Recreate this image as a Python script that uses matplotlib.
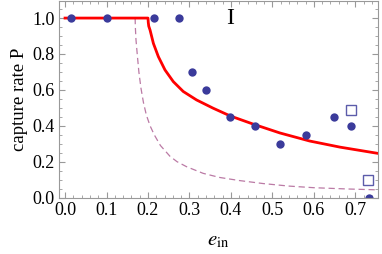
import matplotlib
matplotlib.use("Agg")
import matplotlib.pyplot as plt
from matplotlib.ticker import MultipleLocator

# measured capture rates
e_data = [0.015, 0.10, 0.214, 0.275, 0.306, 0.34, 0.398, 0.458, 0.518, 0.58, 0.648, 0.69, 0.733]
p_data = [1.0, 1.0, 1.0, 1.0, 0.70, 0.60, 0.45, 0.40, 0.30, 0.35, 0.45, 0.40, 0.0]

# open squares
e_sq = [0.69, 0.73]
p_sq = [0.49, 0.10]

# red theory curve
e_red = [0.0, 0.2, 0.2007, 0.2018, 0.205, 0.213, 0.225, 0.241, 0.261, 0.285, 0.317, 0.357,
         0.398, 0.454, 0.518, 0.59, 0.663, 0.755]
p_red = [1.0, 1.0, 0.975, 0.955, 0.933, 0.859, 0.785, 0.711, 0.646, 0.591, 0.544, 0.498,
         0.455, 0.409, 0.36, 0.315, 0.281, 0.246]

# dashed curve
e_dash = [0.0, 0.169, 0.1695, 0.171, 0.174, 0.178, 0.183, 0.189, 0.196, 0.205, 0.215, 0.23,
          0.253, 0.27, 0.293, 0.333, 0.373, 0.42, 0.478, 0.54, 0.60, 0.68, 0.755]
p_dash = [1.0, 1.0, 0.95, 0.88, 0.80, 0.70, 0.61, 0.53, 0.46, 0.40, 0.35, 0.29,
          0.23, 0.20, 0.172, 0.135, 0.112, 0.095, 0.078, 0.064, 0.055, 0.048, 0.043]

plt.rcParams['font.family'] = ['Liberation Serif', 'DejaVu Serif']
plt.rcParams['mathtext.fontset'] = 'stix'

fig = plt.figure(figsize=(3.82, 2.54), dpi=100)
ax = fig.add_axes([0.154, 0.22, 0.836, 0.776])

ax.plot(e_dash, p_dash, color='#bb7aa5', lw=0.9, dashes=(5, 3))
ax.plot(e_red, p_red, color='#ff0000', lw=2.0)
ax.plot(e_data, p_data, 'o', color='#3b3b9b', ms=6, mec='none')
ax.plot(e_sq, p_sq, 's', mfc='white', mec='#5c5caa', mew=1.0, ms=7.5)

ax.text(0.398, 1.0, 'I', fontsize=17, ha='center', va='center')

ax.set_xlim(-0.015, 0.755)
ax.set_ylim(-0.003, 1.095)
ax.xaxis.set_major_locator(MultipleLocator(0.1))
ax.xaxis.set_minor_locator(MultipleLocator(0.02))
ax.yaxis.set_major_locator(MultipleLocator(0.2))
ax.yaxis.set_minor_locator(MultipleLocator(0.05))
ax.xaxis.set_major_formatter(plt.FuncFormatter(lambda v, p: '%.1f' % v))
ax.yaxis.set_major_formatter(plt.FuncFormatter(lambda v, p: '%.1f' % v))

ax.tick_params(which='both', direction='in', top=True, right=True, color='#999999',
               labelsize=13, pad=3)
ax.tick_params(which='major', length=4, width=0.8)
ax.tick_params(which='minor', length=2.2, width=0.6)
for s in ax.spines.values():
    s.set_color('#999999')
    s.set_linewidth(0.8)

ax.set_xlabel(r'$e_{\mathrm{in}}$', fontsize=15, labelpad=9)
ax.set_ylabel('capture rate P', fontsize=13.5, labelpad=3)

fig.savefig('out.png', dpi=100)
